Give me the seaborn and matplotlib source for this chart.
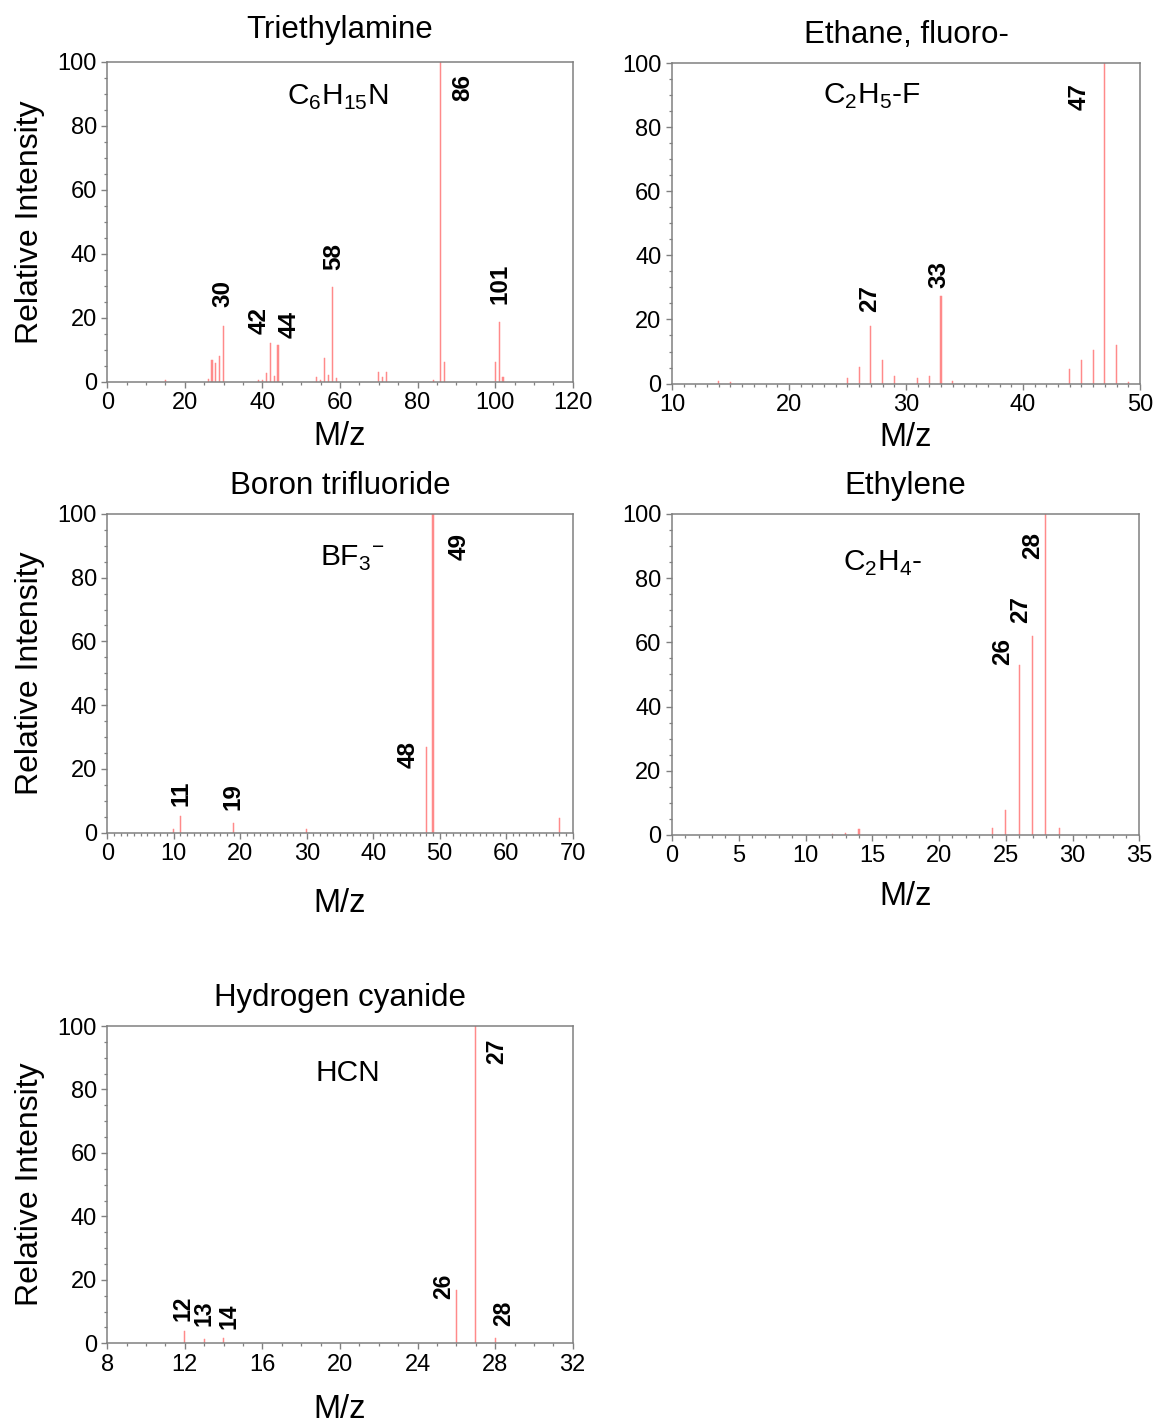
import matplotlib
matplotlib.use("Agg")
import matplotlib.pyplot as plt
from matplotlib.ticker import MultipleLocator
import seaborn as sns

# ---- spectra: m/z and relative intensity ----
tea_mz = [15, 26, 27, 28, 29, 30, 39, 40, 41, 42, 43, 44, 54, 55, 56, 57, 58, 59,
          70, 71, 72, 84, 86, 87, 100, 101, 102]
tea_int = [0.6, 0.8, 6.8, 6.0, 8.2, 17.5, 0.5, 0.6, 2.9, 12.1, 1.9, 11.5, 1.6, 0.5,
           7.6, 2.1, 29.7, 1.1, 3.2, 1.5, 3.0, 0.5, 100, 6.2, 6.1, 18.9, 1.5]
tea_peaks = [30, 42, 44, 58, 86, 101]

etf_mz = [14, 15, 25, 26, 27, 28, 29, 31, 32, 33, 34, 44, 45, 46, 47, 48, 49]
etf_int = [0.8, 0.6, 1.6, 5.2, 18.0, 7.2, 2.5, 1.7, 2.3, 27.4, 0.8, 4.6, 7.3, 10.6,
           100, 11.9, 0.5]
etf_peaks = [27, 33, 47]

bf3_mz = [10, 11, 19, 30, 48, 49, 68]
bf3_int = [1.3, 5.1, 3.0, 1.0, 26.8, 100, 4.6]
bf3_peaks = [11, 19, 48, 49]

eth_mz = [12, 13, 14, 24, 25, 26, 27, 28, 29]
eth_int = [0.4, 0.7, 2.0, 2.2, 7.7, 52.8, 62.1, 100, 2.2]
eth_peaks = [26, 27, 28]

hcn_mz = [12, 13, 14, 26, 27, 28]
hcn_int = [4.0, 1.5, 1.6, 16.8, 100, 1.6]
hcn_peaks = [12, 13, 14, 26, 27, 28]

titles = ["Triethylamine", "Ethane, fluoro-", "Boron trifluoride", "Ethylene",
          "Hydrogen cyanide"]
formulas = [r"C$_\mathregular{6}$H$_\mathregular{15}$N",
            r"C$_\mathregular{2}$H$_\mathregular{5}$-F",
            r"BF$_\mathregular{3}{}^\mathregular{-}$",
            r"C$_\mathregular{2}$H$_\mathregular{4}$-",
            "HCN"]
x_ranges = [(0, 120), (10, 50), (0, 70), (0, 35), (8, 32)]
x_major = [20, 10, 10, 5, 4]
x_minor = [5, 1, 1, 1, 1]

# ---- layout / styling ----
sns.set_theme(style="ticks")
plt.rcParams["font.family"] = ["Liberation Sans", "DejaVu Sans"]

BAR_COLOR = "#ff8a8a"
SPINE = "#808080"

axes_rects = [
    [0.0928, 0.7325, 0.4027, 0.2241],
    [0.5813, 0.7314, 0.4048, 0.2244],
    [0.0928, 0.4169, 0.4026, 0.2232],
    [0.5813, 0.4153, 0.4043, 0.2248],
    [0.0928, 0.0593, 0.4026, 0.2222],
]
# bar widths in m/z units, about 1.5 px on each axis
bar_widths = [0.3, 0.1, 0.175, 0.087, 0.06]
title_pads = [17, 14.5, 14.5, 14.5, 14.5]
xlabel_pads = [4.5, 4.5, 16.5, 9.5, 13]
show_ylabel = [True, False, True, False, True]

formula_pos = [(59.4, 89.0), (27.1, 89.5), (36.8, 86.2), (15.8, 84.7), (20.4, 85.3)]
peak_label_pos = [
    {30: (29.9, 27.8), 42: (39.2, 19.1), 44: (47.0, 18.1), 58: (58.3, 39.1),
     86: (91.6, 91.9), 101: (101.2, 30.6)},
    {27: (26.88, 26.6), 33: (32.85, 34.1), 47: (44.78, 89.7)},
    {11: (11.1, 12.5), 19: (18.9, 11.3), 48: (45.2, 24.4), 49: (52.9, 89.7)},
    {26: (24.73, 57.1), 27: (26.1, 70.3), 28: (26.98, 90.3)},
    {12: (11.88, 11.0), 13: (12.97, 9.5), 14: (14.26, 8.4), 26: (25.33, 17.9),
     27: (28.1, 92.0), 28: (28.42, 9.5)},
]
peak_fontsize = [17.5, 17.5, 17.5, 17.5, 16.5]

spectra = [
    (tea_mz, tea_int, tea_peaks),
    (etf_mz, etf_int, etf_peaks),
    (bf3_mz, bf3_int, bf3_peaks),
    (eth_mz, eth_int, eth_peaks),
    (hcn_mz, hcn_int, hcn_peaks),
]

fig = plt.figure(figsize=(11.56, 14.28), dpi=100)

for i, (mz, inten, peaks) in enumerate(spectra):
    ax = fig.add_axes(axes_rects[i])
    sns.barplot(x=mz, y=inten, native_scale=True, width=bar_widths[i],
                color=BAR_COLOR, saturation=1, linewidth=0.35,
                edgecolor=BAR_COLOR, errorbar=None, ax=ax)

    ax.set_xlim(*x_ranges[i])
    ax.set_ylim(0, 100)
    ax.xaxis.set_major_locator(MultipleLocator(x_major[i]))
    ax.xaxis.set_minor_locator(MultipleLocator(x_minor[i]))
    ax.yaxis.set_major_locator(MultipleLocator(20))
    ax.yaxis.set_minor_locator(MultipleLocator(5))

    for side in ["left", "right", "top", "bottom"]:
        ax.spines[side].set_visible(True)
        ax.spines[side].set_color(SPINE)
        ax.spines[side].set_linewidth(1.1)
    ax.tick_params(which="major", direction="out", length=4.5, width=1,
                   color=SPINE, labelsize=17, labelcolor="black", pad=3)
    ax.tick_params(which="minor", direction="out", length=2.5, width=0.9,
                   color=SPINE)
    ax.tick_params(top=False, right=False, which="both")

    ax.set_title(titles[i], fontsize=22.5, pad=title_pads[i], color="black")
    ax.set_xlabel("M/z", fontsize=23.5, labelpad=xlabel_pads[i], color="black")
    if show_ylabel[i]:
        ax.set_ylabel("Relative Intensity", fontsize=23, labelpad=9,
                      color="black")
    else:
        ax.set_ylabel("")

    fx, fy = formula_pos[i]
    ax.text(fx, fy, formulas[i], fontsize=21.5, ha="center", va="center",
            color="black")

    for m in peaks:
        lx, ly = peak_label_pos[i][m]
        ax.text(lx, ly, str(m), fontsize=peak_fontsize[i], fontweight="bold",
                rotation=90, ha="center", va="center", color="black")

fig.savefig("out.png", dpi=100, facecolor="white")
